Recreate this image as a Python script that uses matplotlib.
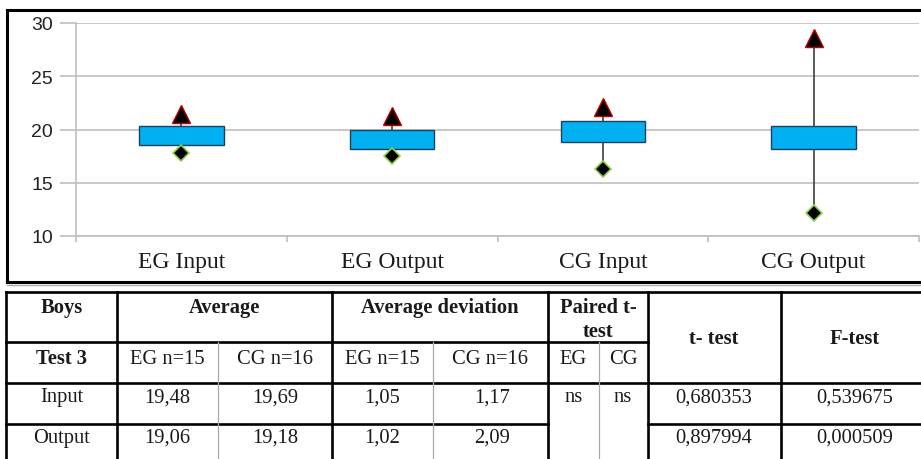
import matplotlib
matplotlib.use("Agg")
import matplotlib.pyplot as plt
from matplotlib.lines import Line2D

# stock-style chart: box = open/close, triangle = high, diamond = low
categories = ["EG Input", "EG Output", "CG Input", "CG Output"]
box_low = [18.54, 18.14, 18.83, 18.14]
box_high = [20.33, 19.98, 20.80, 20.33]
max_vals = [21.50, 21.30, 22.10, 28.55]
min_vals = [17.80, 17.48, 16.29, 12.13]
y_ticks = [10, 15, 20, 25, 30]

# table below the chart
header_top = ["Boys", "Average", "Average deviation", "Paired t-", "test", "t- test", "F-test"]
header_sub = ["Test 3", "EG n=15", "CG n=16", "EG n=15", "CG n=16", "EG", "CG"]
row_labels = ["Input", "Output"]
avg_eg = ["19,48", "19,06"]
avg_cg = ["19,69", "19,18"]
dev_eg = ["1,05", "1,02"]
dev_cg = ["1,17", "2,09"]
paired = ["ns", "ns"]
t_test = ["0,680353", "0,897994"]
f_test = ["0,539675", "0,000509"]

W, H = 921, 460


def fx(x):
    return x / W


def fy(y):
    return 1 - y / H


fig = plt.figure(figsize=(W / 100, H / 100), dpi=100)

# chart area
ax = fig.add_axes([fx(76), fy(237), (919 - 76) / W, (237 - 24) / H])
xs = list(range(len(categories)))
ax.vlines(xs, min_vals, max_vals, color="#404040", lw=1.2, zorder=2)
ax.bar(xs, [h - l for h, l in zip(box_high, box_low)], bottom=box_low,
       width=0.4, color="#00B0F0", edgecolor="#1F3F5F", lw=1.0, zorder=3)
ax.plot(xs, max_vals, "^", ms=13, mfc="black", mec="#C00000", mew=1.0,
        ls="none", zorder=4)
ax.plot(xs, min_vals, "D", ms=8.5, mfc="black", mec="#92D050", mew=1.2,
        ls="none", zorder=4)

ax.set_xlim(-0.5, 3.5)
ax.set_ylim(10, 30)
ax.set_yticks(y_ticks)
ax.set_yticklabels([str(v) for v in y_ticks], family="Liberation Sans",
                   fontsize=14, color="#222222")
ax.set_xticks(xs)
ax.set_xticklabels(categories, family="Liberation Serif", fontsize=17,
                   color="#1a1a1a")
ax.set_xticks([i - 0.5 for i in range(len(categories) + 1)], minor=True)
ax.tick_params(axis="x", which="major", length=0, pad=11)
ax.tick_params(axis="x", which="minor", length=4, width=1.2, color="#BFBFBF")
ax.tick_params(axis="y", length=11.5, width=1.2, color="#BFBFBF", pad=5)
ax.grid(axis="y", color="#BFBFBF", lw=1.2, zorder=0)
ax.set_axisbelow(True)
for s in ["top", "right"]:
    ax.spines[s].set_visible(False)
for s in ["left", "bottom"]:
    ax.spines[s].set_color("#BFBFBF")
    ax.spines[s].set_linewidth(1.2)


def hline(y, x0, x1, color="black", lw=1.9):
    fig.add_artist(Line2D([fx(x0), fx(x1)], [fy(y), fy(y)], color=color,
                          lw=lw, transform=fig.transFigure))


def vline(x, y0, y1, color="black", lw=1.9):
    fig.add_artist(Line2D([fx(x), fx(x)], [fy(y0), fy(y1)], color=color,
                          lw=lw, transform=fig.transFigure))


# chart frame
hline(11, 7, 921, lw=2.2)
vline(7, 11, 283, lw=2.2)
hline(283, 7, 921, lw=2.2)
hline(285.5, 7, 921, color="#AAAAAA", lw=1.0)

# table grid
hline(293, 6, 921)
hline(343, 6, 648)
hline(384, 6, 921)
hline(425, 6, 548)
hline(425, 648, 921)
for x in [6, 116.7, 332, 548, 647.5, 780.7]:
    vline(x, 293, 460)
for x in [217.7, 432.7, 599]:
    vline(x, 343, 460, color="#AAAAAA", lw=0.9)

serif = "Liberation Serif"
tc = "#1a1a1a"
fs = 14.8


def cell(x, y, s, bold=False):
    fig.text(fx(x), fy(y), s, ha="center", va="center", family=serif,
             fontsize=fs, color=tc, fontweight="bold" if bold else "normal")


top_x = [61.4, 224, 440, 598, 598, 714, 855]
top_y = [308, 308, 308, 308, 332, 339, 339]
for s, x, y in zip(header_top, top_x, top_y):
    cell(x, y, s, bold=True)

sub_x = [61.4, 167, 275, 382, 490, 573.5, 623]
for i, (s, x) in enumerate(zip(header_sub, sub_x)):
    cell(x, 359, s, bold=(i == 0))

row_y = [398, 438]
for i, y in enumerate(row_y):
    cell(61.4, y, row_labels[i])
    cell(167, y, avg_eg[i])
    cell(275, y, avg_cg[i])
    cell(382, y, dev_eg[i])
    cell(492, y, dev_cg[i])
    cell(714, y, t_test[i])
    cell(855, y, f_test[i])
cell(573.5, 398, paired[0])
cell(623, 398, paired[1])

plt.savefig("out.png", dpi=100)
plt.close()
